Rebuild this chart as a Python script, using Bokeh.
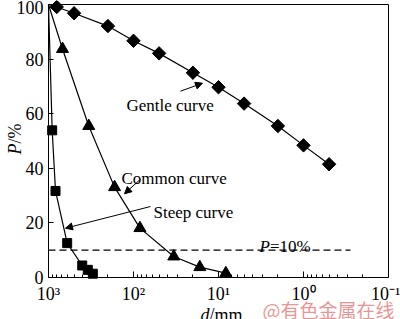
import json
import numpy as np
from bokeh.plotting import figure
from bokeh.models import (Range1d, FixedTicker, CustomJSTickFormatter, Label,
                          Arrow, NormalHead, LogAxis, LinearAxis)
from bokeh.embed import file_html
from bokeh.resources import INLINE

# ---------------- data ----------------
gentle_d = [800, 500, 200, 100, 50, 20, 10, 5, 2, 1, 0.5]
gentle_p = [99.1, 96.8, 92.1, 86.7, 82.1, 75.0, 69.7, 63.7, 55.5, 48.4, 41.5]

common_d = [684, 336, 167, 84, 33.6, 16.6, 8.2]
common_p = [83.7, 55.5, 33.1, 18.1, 7.7, 3.8, 1.6]

steep_d = [905, 827, 603, 401, 345, 301]
steep_p = [53.9, 31.7, 12.6, 4.4, 2.8, 1.4]

curve_start_d = [1000]
curve_start_p = [100]

ref_d = [1000, 0.28]
ref_p = [10, 10]

x_ticks = [1000, 100, 10, 1, 0.1]
x_tick_labels = ["10\u00b3", "10\u00b2", "10\u00b9", "10\u2070", "10\u207b\u00b9"]
x_minor = [m * 10.0 ** e for e in range(-1, 3) for m in range(2, 10)]
y_ticks = [0, 20, 40, 60, 80, 100]

X_LIMITS = (1000, 0.1)
Y_LIMITS = (0, 100)

# ---------------- layout helpers ----------------
W, H = 400, 319
FL, FR, FT, FB = 48, 388, 4, 277  # where the axes box sits on the canvas
LX0, LX1 = np.log10(X_LIMITS[0]), np.log10(X_LIMITS[1])


def dx(px):
    return 10 ** (LX0 + (LX1 - LX0) * (px - FL) / (FR - FL))


def dy(py):
    return Y_LIMITS[0] + (Y_LIMITS[1] - Y_LIMITS[0]) * (FB - py) / (FB - FT)


SERIF = "Liberation Serif"

p = figure(width=W, height=H, x_axis_type="log",
           x_range=Range1d(dx(0), dx(W)), y_range=Range1d(dy(H), dy(0)),
           output_backend="svg", toolbar_location=None,
           min_border_left=0, min_border_right=0,
           min_border_top=0, min_border_bottom=0)
p.background_fill_color = "white"
p.border_fill_color = "white"
p.outline_line_color = None
p.grid.visible = False

xb = (min(X_LIMITS), max(X_LIMITS))
yb = (min(Y_LIMITS), max(Y_LIMITS))

xa = p.xaxis[0]
ya = p.yaxis[0]
xa.fixed_location = Y_LIMITS[0]
ya.fixed_location = X_LIMITS[0]
xa.bounds = xb
ya.bounds = yb

xa.ticker = FixedTicker(ticks=x_ticks, minor_ticks=x_minor)
fmt_code = ("const vals = %s; const labs = %s;"
            "for (let i = 0; i < vals.length; i++) {"
            "  if (Math.abs(Math.log10(tick) - Math.log10(vals[i])) < 1e-6) return labs[i];"
            "} return '';") % (json.dumps(x_ticks), json.dumps(x_tick_labels))
xa.formatter = CustomJSTickFormatter(code=fmt_code)
ya.ticker = FixedTicker(ticks=y_ticks)

for ax in (xa, ya):
    ax.axis_line_color = "black"
    ax.axis_line_width = 1
    ax.major_tick_line_color = "black"
    ax.major_tick_out = 0
    ax.major_label_text_font = SERIF
    ax.major_label_text_font_size = "18px"
    ax.major_label_text_color = "black"
xa.major_tick_in = 6
xa.minor_tick_in = 3
xa.minor_tick_out = 0
xa.minor_tick_line_color = "black"
xa.major_label_standoff = 6
ya.major_tick_in = 5
ya.minor_tick_line_color = None
ya.major_label_standoff = 5

# top and right edges of the box
top_ax = LogAxis(fixed_location=Y_LIMITS[1], bounds=xb, ticker=FixedTicker(ticks=[]),
                 major_label_text_font_size="0px", axis_line_color="black",
                 major_tick_line_color=None, minor_tick_line_color=None)
right_ax = LinearAxis(fixed_location=X_LIMITS[1], bounds=yb, ticker=FixedTicker(ticks=[]),
                      major_label_text_font_size="0px", axis_line_color="black",
                      major_tick_line_color=None, minor_tick_line_color=None)
p.add_layout(top_ax, "above")
p.add_layout(right_ax, "right")

# curves
p.line(curve_start_d + gentle_d, curve_start_p + gentle_p, line_color="black", line_width=1.2)
p.line(curve_start_d + common_d, curve_start_p + common_p, line_color="black", line_width=1.2)
p.line(curve_start_d + steep_d, curve_start_p + steep_p, line_color="black", line_width=1.2)

# reference line P = 10 %
p.line(ref_d, ref_p, line_color="black", line_width=1.3, line_dash="7 4")

# markers
p.scatter(gentle_d, gentle_p, marker="square", angle=np.pi / 4, size=9.5,
          fill_color="black", line_color="black")
p.scatter(common_d, common_p, marker="triangle", size=12,
          fill_color="black", line_color="black")
p.scatter(steep_d, steep_p, marker="square", size=9,
          fill_color="black", line_color="black")


def add_label(px, py, text, size="17px", style="normal", align="left",
              baseline="alphabetic", angle=0.0, color="black", font=SERIF, alpha=1.0):
    p.add_layout(Label(x=dx(px), y=dy(py), text=text, text_font=font,
                       text_font_size=size, text_font_style=style,
                       text_align=align, text_baseline=baseline, angle=angle,
                       text_color=color, text_alpha=alpha))


add_label(126, 105, "Gentle curve")
add_label(121, 178, "Common curve")
add_label(153, 212, "Steep curve")
add_label(269.5, 246, "P", style="italic", align="right")
add_label(269.5, 246, "=10%")

# axis titles
add_label(209, 314.5, "d", size="18px", style="italic", align="right")
add_label(209, 314.5, "/mm", size="18px")
add_label(14, 143, "P", size="18px", style="italic", align="right",
          baseline="middle", angle=np.pi / 2)
add_label(14, 143, "/%", size="18px", align="left",
          baseline="middle", angle=np.pi / 2)

# arrows
for (sx, sy, ex, ey) in [(180, 90.7, 202, 82.7),
                         (139.3, 179.3, 124, 193.3),
                         (150, 206, 65, 227.7)]:
    p.add_layout(Arrow(end=NormalHead(size=7, fill_color="black", line_color="black",
                                      line_width=1),
                       x_start=dx(sx), y_start=dy(sy), x_end=dx(ex), y_end=dy(ey),
                       line_color="black", line_width=1))

# watermark
add_label(262, 309, "@有色金属在线", size="19px", color="#ea7f7f",
          font="Noto Sans CJK SC", alpha=0.85)

open("out.html", "w").write(file_html(p, INLINE))
